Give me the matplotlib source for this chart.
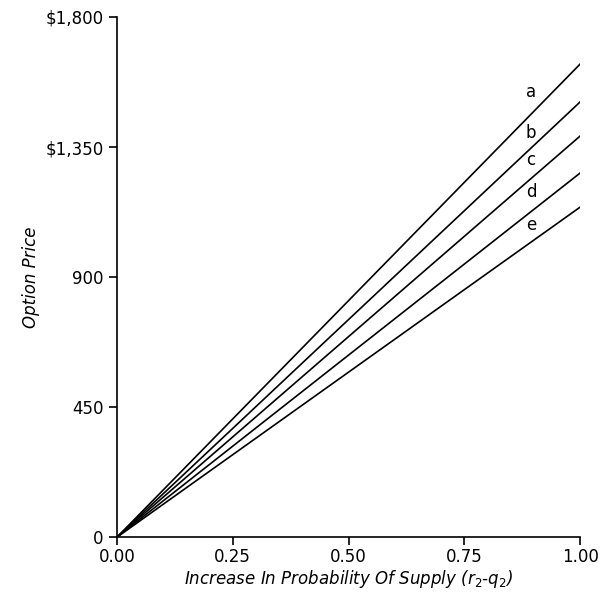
import matplotlib
matplotlib.use("Agg")
import matplotlib.pyplot as plt
import numpy as np

series = ["a", "b", "c", "d", "e"]
end_values = [1637, 1506, 1388, 1260, 1142]   # option price at x = 1.00
x_points = [0.0, 1.0]
label_x = 0.894
label_y = [1540, 1398, 1305, 1194, 1080]

xticks = [0.0, 0.25, 0.5, 0.75, 1.0]
xticklabels = ["0.00", "0.25", "0.50", "0.75", "1.00"]
yticks = [0, 450, 900, 1350, 1800]
yticklabels = ["0", "450", "900", "$1,350", "$1,800"]

plt.rcParams['font.family'] = ['DejaVu Sans']
fig = plt.figure(figsize=(6.03, 6.07), dpi=100)
ax = fig.add_axes([0.194, 0.115, 0.768, 0.857])

for name, v, ly in zip(series, end_values, label_y):
    ax.plot(x_points, [0, v], color="black", lw=1.2)
    ax.text(label_x, ly, name, fontsize=12, ha="center", va="center")

ax.set_xlim(0, 1)
ax.set_ylim(0, 1800)
ax.set_xticks(xticks)
ax.set_xticklabels(xticklabels, fontsize=12)
ax.set_yticks(yticks)
ax.set_yticklabels(yticklabels, fontsize=12)
ax.spines['top'].set_visible(False)
ax.spines['right'].set_visible(False)
ax.spines['left'].set_linewidth(1.2)
ax.spines['bottom'].set_linewidth(1.2)
ax.tick_params(direction='out', length=6, width=1.2)
ax.tick_params(axis='x', pad=2)
ax.set_xlabel(r"Increase In Probability Of Supply ($r_2$-$q_2$)", fontsize=12, style='italic', labelpad=1)
ax.set_ylabel("Option Price", fontsize=12, style='italic', labelpad=4)

fig.savefig("out.png", dpi=100)
